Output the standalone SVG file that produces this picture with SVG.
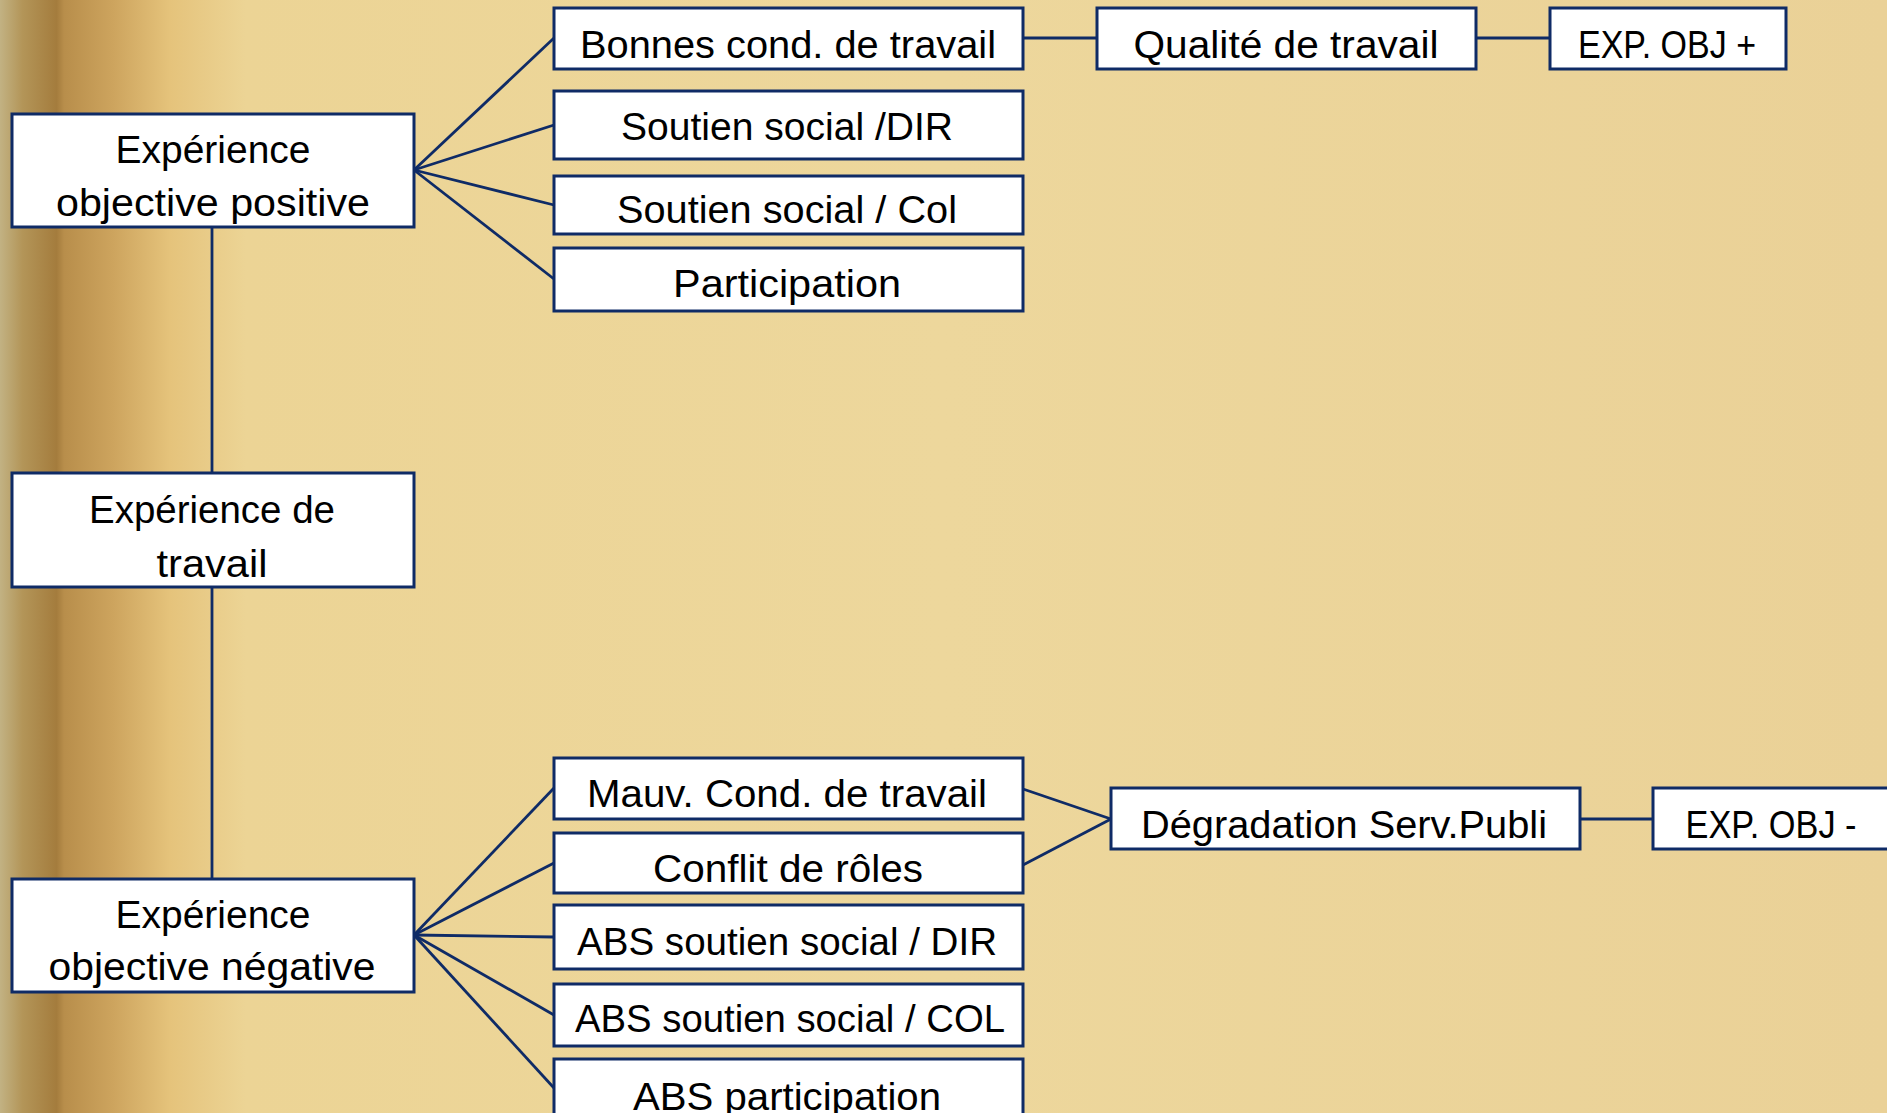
<svg xmlns="http://www.w3.org/2000/svg" width="1887" height="1113" viewBox="0 0 1887 1113">
<defs>
<linearGradient id="bg" x1="0" y1="0" x2="1887" y2="0" gradientUnits="userSpaceOnUse">
<stop offset="0" stop-color="#c2b283"/>
<stop offset="0.012" stop-color="#b39558"/>
<stop offset="0.03" stop-color="#a47c3d"/>
<stop offset="0.034" stop-color="#b88e4b"/>
<stop offset="0.06" stop-color="#cda45e"/>
<stop offset="0.09" stop-color="#e5c37b"/>
<stop offset="0.13" stop-color="#ecd495"/>
<stop offset="0.5" stop-color="#edd79c"/>
<stop offset="1" stop-color="#ead197"/>
</linearGradient>
<style>
.box{fill:#ffffff;stroke:#0f2b66;stroke-width:3}
.lbl{font-family:"Liberation Sans",Arial,sans-serif;font-size:38px;fill:#000000;text-anchor:middle}
.con{stroke:#0f2b66;stroke-width:2.8;fill:none}
</style>
</defs>
<rect x="0" y="0" width="1887" height="1113" fill="url(#bg)"/>

<g id="connectors">
<line class="con" x1="212" y1="227" x2="212" y2="473"/>
<line class="con" x1="212" y1="587" x2="212" y2="879"/>
<line class="con" x1="414" y1="170" x2="554" y2="38"/>
<line class="con" x1="414" y1="170" x2="554" y2="125"/>
<line class="con" x1="414" y1="170" x2="554" y2="205"/>
<line class="con" x1="414" y1="170" x2="554" y2="279"/>
<line class="con" x1="1023" y1="38" x2="1097" y2="38"/>
<line class="con" x1="1476" y1="38" x2="1550" y2="38"/>
<line class="con" x1="414" y1="935" x2="554" y2="788"/>
<line class="con" x1="414" y1="935" x2="554" y2="863"/>
<line class="con" x1="414" y1="935" x2="554" y2="937"/>
<line class="con" x1="414" y1="935" x2="554" y2="1015"/>
<line class="con" x1="414" y1="935" x2="554" y2="1088"/>
<line class="con" x1="1023" y1="789" x2="1111" y2="819"/>
<line class="con" x1="1023" y1="865" x2="1111" y2="819"/>
<line class="con" x1="1580" y1="819" x2="1653" y2="819"/>
</g>

<g id="node-exp-pos">
<rect class="box" x="12" y="114" width="402" height="113"/>
<text class="lbl" x="213" y="163" textLength="195" lengthAdjust="spacingAndGlyphs">Expérience</text>
<text class="lbl" x="213" y="216" textLength="314" lengthAdjust="spacingAndGlyphs">objective positive</text>
</g>
<g id="node-exp-travail">
<rect class="box" x="12" y="473" width="402" height="114"/>
<text class="lbl" x="212" y="523" textLength="246" lengthAdjust="spacingAndGlyphs">Expérience de</text>
<text class="lbl" x="212" y="577" textLength="111" lengthAdjust="spacingAndGlyphs">travail</text>
</g>
<g id="node-exp-neg">
<rect class="box" x="12" y="879" width="402" height="113"/>
<text class="lbl" x="213" y="928" textLength="195" lengthAdjust="spacingAndGlyphs">Expérience</text>
<text class="lbl" x="212" y="980" textLength="327" lengthAdjust="spacingAndGlyphs">objective négative</text>
</g>

<g id="node-bonnes">
<rect class="box" x="554" y="8" width="469" height="61"/>
<text class="lbl" x="788" y="58" textLength="416" lengthAdjust="spacingAndGlyphs">Bonnes cond. de travail</text>
</g>
<g id="node-soutien-dir">
<rect class="box" x="554" y="91" width="469" height="68"/>
<text class="lbl" x="787" y="140" textLength="332" lengthAdjust="spacingAndGlyphs">Soutien social /DIR</text>
</g>
<g id="node-soutien-col">
<rect class="box" x="554" y="176" width="469" height="58"/>
<text class="lbl" x="787" y="223" textLength="340" lengthAdjust="spacingAndGlyphs">Soutien social / Col</text>
</g>
<g id="node-participation">
<rect class="box" x="554" y="248" width="469" height="63"/>
<text class="lbl" x="787" y="297" textLength="228" lengthAdjust="spacingAndGlyphs">Participation</text>
</g>
<g id="node-qualite">
<rect class="box" x="1097" y="8" width="379" height="61"/>
<text class="lbl" x="1286" y="58" textLength="305" lengthAdjust="spacingAndGlyphs">Qualité de travail</text>
</g>
<g id="node-exp-obj-plus">
<rect class="box" x="1550" y="8" width="236" height="61"/>
<text class="lbl" x="1667" y="58" textLength="178" lengthAdjust="spacingAndGlyphs">EXP. OBJ +</text>
</g>

<g id="node-mauv">
<rect class="box" x="554" y="758" width="469" height="61"/>
<text class="lbl" x="787" y="807" textLength="400" lengthAdjust="spacingAndGlyphs">Mauv. Cond. de travail</text>
</g>
<g id="node-conflit">
<rect class="box" x="554" y="833" width="469" height="60"/>
<text class="lbl" x="788" y="882" textLength="270" lengthAdjust="spacingAndGlyphs">Conflit de rôles</text>
</g>
<g id="node-abs-dir">
<rect class="box" x="554" y="905" width="469" height="64"/>
<text class="lbl" x="787" y="955" textLength="420" lengthAdjust="spacingAndGlyphs">ABS soutien social / DIR</text>
</g>
<g id="node-abs-col">
<rect class="box" x="554" y="984" width="469" height="62"/>
<text class="lbl" x="790" y="1032" textLength="430" lengthAdjust="spacingAndGlyphs">ABS soutien social / COL</text>
</g>
<g id="node-abs-participation">
<rect class="box" x="554" y="1059" width="469" height="60"/>
<text class="lbl" x="787" y="1110" textLength="308" lengthAdjust="spacingAndGlyphs">ABS participation</text>
</g>
<g id="node-degradation">
<rect class="box" x="1111" y="788" width="469" height="61"/>
<text class="lbl" x="1344" y="838" textLength="406" lengthAdjust="spacingAndGlyphs">Dégradation Serv.Publi</text>
</g>
<g id="node-exp-obj-minus">
<rect class="box" x="1653" y="788" width="250" height="61"/>
<text class="lbl" x="1771" y="838" textLength="171" lengthAdjust="spacingAndGlyphs">EXP. OBJ -</text>
</g>
</svg>
